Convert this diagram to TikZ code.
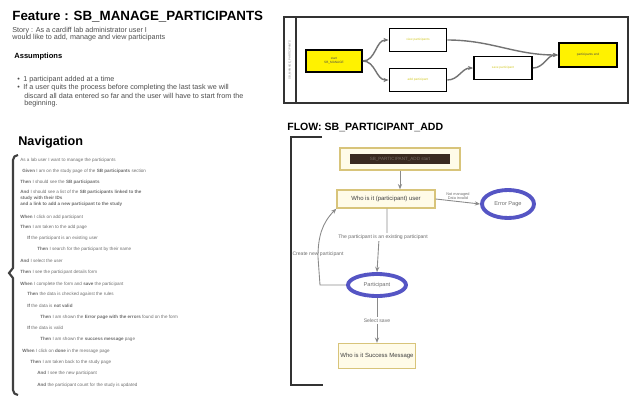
\documentclass[tikz,border=0pt]{standalone}
\usepackage{fontspec}
\setmainfont{Liberation Sans}
\usetikzlibrary{arrows.meta,shapes.geometric,positioning}
\definecolor{navgray}{HTML}{6E6E6E}
\definecolor{flowline}{HTML}{8A8A8A}
\definecolor{flowedge}{HTML}{D8C47A}
\definecolor{flowfill}{HTML}{FFFBE8}
\definecolor{ovalblue}{HTML}{5555C4}
\definecolor{darkbar}{HTML}{3A2A20}
\tikzset{
  tiny/.style={font=\fontsize{2.6}{3.1}\selectfont},
  small/.style={font=\fontsize{4.1}{4.8}\selectfont},
  navline/.style={tiny,anchor=west,text=navgray,inner sep=0pt},
  storyline/.style={small,anchor=west,text=black!70,inner sep=0pt},
  storybox/.style={draw=black,line width=1pt,minimum width=1.14cm,minimum height=0.46cm,
    font=\fontsize{1.8}{2}\selectfont,text=yellow!80!black,inner sep=1pt},
  endbox/.style={storybox,fill=yellow,text=black!70},
  flowbox/.style={draw=flowedge,fill=flowfill,line width=0.8pt,font=\fontsize{3.4}{4}\selectfont,text=black!75,inner sep=1pt},
  oval/.style={ellipse,draw=ovalblue,line width=2.2pt,fill=white,font=\fontsize{3.2}{4}\selectfont,text=navgray,inner sep=0pt},
  link/.style={draw=flowline,line width=0.5pt,-{Stealth[length=3pt,width=2.4pt]}},
  storylink/.style={draw=black!55,line width=0.8pt,-{Stealth[length=3pt,width=2.4pt]}},
  lbl/.style={font=\fontsize{2.9}{3.4}\selectfont,text=navgray,inner sep=1pt}
}
\begin{document}
\begin{tikzpicture}[x=0.02cm,y=-0.02cm]
\useasboundingbox (0,0) rectangle (637,400);

\node[anchor=west,inner sep=0pt,font=\fontsize{7.6}{9}\selectfont\bfseries] (title) at (12,17) {Feature : SB\_MANAGE\_PARTICIPANTS};
\node[storyline] (story1) at (12,31) {Story : As a cardiff lab administrator user I};
\node[storyline] (story2) at (12,38) {would like to add, manage and view participants};
\node[anchor=west,inner sep=0pt,font=\fontsize{4.3}{5}\selectfont\bfseries] (assume) at (14,57) {Assumptions};
\node[storyline] (bul1) at (17,80) {\textbullet\enspace 1 participant added at a time};
\node[storyline] (bul2) at (17,88) {\textbullet\enspace If a user quits the process before completing the last task we will};
\node[storyline] (bul3) at (24,96) {discard all data entered so far and the user will have to start from the};
\node[storyline] (bul4) at (24,104) {beginning.};

\draw[line width=1pt,black!80] (284,17) rectangle (628,103);
\draw[line width=1pt,black!80] (284,17) rectangle (296,103);
\node[rotate=90,font=\fontsize{1.6}{2}\selectfont,text=black!50,inner sep=0pt] (lane) at (290,60) {SB\_MANAGE\_PARTICIPANTS};
\node[endbox,minimum width=1.12cm,minimum height=0.44cm,align=center] (start) at (334,61) {start\\SB\_MANAGE};
\node[storybox] (view) at (418,40) {view participants};
\node[storybox] (add) at (418,80) {add participant};
\node[storybox,minimum width=1.16cm] (save) at (503,68) {save participant};
\node[endbox,minimum width=1.16cm,minimum height=0.48cm] (finish) at (588,55) {participants end};
\draw[storylink] (start.east) to[out=0,in=180] (view.west);
\draw[storylink] (start.east) to[out=0,in=180] (add.west);
\draw[storylink] (add.east) to[out=0,in=180] (save.west);
\draw[storylink] (save.east) to[out=0,in=180] (finish.west);
\draw[storylink] (view.east) to[out=0,in=180] (finish.west);

\node[anchor=west,inner sep=0pt,font=\fontsize{7.2}{8.5}\selectfont\bfseries] (nav) at (18,142) {Navigation};
\draw[line width=1.2pt,black!75] (18,155) to[out=180,in=90] (13,160) -- (13,268) -- (9,273) -- (13,278) -- (13,390) to[out=270,in=180] (18,395);
\foreach \x/\y/\t [count=\i] in {
  20/160/{As a lab user I want to manage the participants},
  22/171/{\textbf{Given} I am on the study page of the \textbf{SB participants} section},
  20/182/{\textbf{Then} I should see the \textbf{SB participants}},
  20/192/{\textbf{And} I should see a list of the \textbf{SB participants linked to the}},
  20/198/{\textbf{study with their IDs}},
  20/204/{\textbf{and a link to add a new participant to the study}},
  20/217/{\textbf{When} I click on add participant},
  20/227/{\textbf{Then} I am taken to the add page},
  27/238/{\textbf{If} the participant is an existing user},
  37/249/{\textbf{Then} I search for the participant by their name},
  20/261/{\textbf{And} I select the user},
  20/272/{\textbf{Then} I see the participant details form},
  20/284/{\textbf{When} I complete the form and \textbf{save} the participant},
  27/294/{\textbf{Then} the data is checked against the rules},
  27/306/{\textbf{If} the data is \textbf{not valid}},
  40/317/{\textbf{Then} I am shown the \textbf{Error page with the errors} found on the form},
  27/328/{\textbf{If} the data is valid},
  40/339/{\textbf{Then} I am shown the \textbf{success message} page},
  22/351/{\textbf{When} I click on \textbf{done} in the message page},
  30/362/{\textbf{Then} I am taken back to the study page},
  37/373/{\textbf{And} I see the new participant},
  37/385/{\textbf{And} the participant count for the study is updated}}
  \node[navline] (nav\i) at (\x,\y) {\t};

\node[anchor=west,inner sep=0pt,font=\fontsize{6}{7}\selectfont\bfseries] (flow) at (287,127) {FLOW: SB\_PARTICIPANT\_ADD};
\draw[line width=1.2pt,black!80] (322,137) -- (291,137) -- (291,385) -- (323,385);
\node[flowbox,minimum width=2.4cm,minimum height=0.44cm] (begin) at (400,159) {};
\node[fill=darkbar,minimum width=2.0cm,minimum height=0.2cm,inner sep=0pt,tiny,text=darkbar!70!white] (beginbar) at (begin) {SB\_PARTICIPANT\_ADD start};
\node[flowbox,minimum width=1.96cm,minimum height=0.36cm] (who) at (386,199) {Who is it (participant) user};
\node[oval,minimum width=1.04cm,minimum height=0.56cm] (error) at (508,204) {Error Page};
\node[oval,minimum width=1.16cm,minimum height=0.44cm] (part) at (377,285) {Participant};
\node[flowbox,minimum width=1.46cm,minimum height=0.5cm] (success) at (377,356) {Who is it Success Message};
\draw[link] (begin.south -| 400,0) -- (who.north -| 400,0);
\draw[link] (who.east) -- node[lbl,above,align=center,font=\fontsize{2.2}{2.4}\selectfont] {Not managed\\Data invalid} (error.west);
\draw[link] (who.south -| 387,0) -- (387,235) -- node[lbl,fill=white] {The participant is an existing participant} (379,239) -- (part.north);
\draw[link] (part.west) -- (320,285) -- (318,257) node[lbl,above=-1pt] {Create new participant} to[out=90,in=225] (who.south west);
\draw[link] (part) -- node[lbl,fill=white] {Select save} (success);
\end{tikzpicture}
\end{document}
